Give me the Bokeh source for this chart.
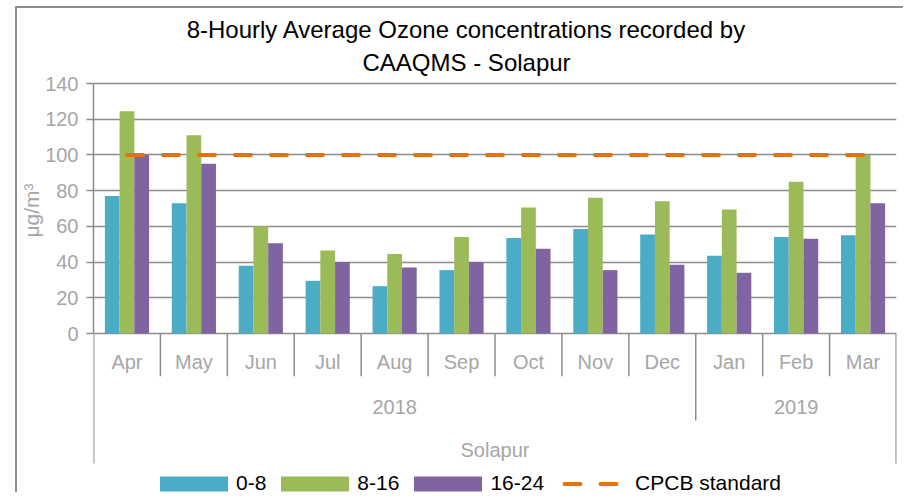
import math
from bokeh.plotting import figure
from bokeh.models import (ColumnDataSource, FactorRange, Range1d, FixedTicker, Title,
                          CDSView, IndexFilter, LegendItem, Legend)
from bokeh.transform import dodge
from bokeh.embed import file_html
from bokeh.resources import INLINE

# ---------------- data ----------------
months = ["Apr", "May", "Jun", "Jul", "Aug", "Sep", "Oct", "Nov", "Dec", "Jan", "Feb", "Mar"]
years = ["2018"] * 9 + ["2019"] * 3
station = "Solapur"
h0_8 = [77, 73, 38, 29.5, 26.5, 35.5, 53.5, 58.5, 55.5, 43.5, 54, 55]
h8_16 = [124.5, 111, 60, 46.5, 44.5, 54, 70.5, 76, 74, 69.5, 85, 100]
h16_24 = [100, 95, 50.5, 40, 37, 40, 47.5, 35.5, 38.5, 34, 53, 73]
cpcb_standard = 100
y_ticks = [0, 20, 40, 60, 80, 100, 120, 140]
series_names = ["0-8", "8-16", "16-24"]
line_name = "CPCB standard"
title_lines = ["8-Hourly Average Ozone concentrations recorded by", "CAAQMS - Solapur"]
y_label = "\u03bcg/m\u00b3"

# ---------------- style / layout ----------------
FONT = "Liberation Sans"
C_TEAL = "#4BACC6"
C_GREEN = "#9BBB59"
C_PURPLE = "#8064A2"
C_ORANGE = "#E8700A"
C_GRID = "#8C8C8C"
C_LABEL = "#A6A6A6"
Y_TOP = 182.0           # frame continues above the value axis: title lives there
Y_BOTTOM = -90.16       # frame continues below zero: category labels + legend live there
AXIS_BOTTOM = -72.8     # bottom of the category-axis box
TITLE_Y = [170.0, 151.5]
TITLE_CENTER = 5.575    # horizontal title centre, in category units from the left edge
MONTH_Y, YEAR_Y, GROUP_Y = -16.2, -41.4, -65.5
MONTH_SEP, YEAR_SEP = -24.0, -48.7
BAR_W = 0.22

src = ColumnDataSource(dict(month=months, a=h0_8, b=h8_16, c=h16_24,
                            std=[cpcb_standard] * len(months)))

p = figure(x_range=FactorRange(*months), y_range=Range1d(Y_BOTTOM, Y_TOP), title=None,
           width=888, height=486, output_backend="svg", toolbar_location=None,
           min_border_left=76, min_border_right=9, min_border_top=0, min_border_bottom=0)
p.styles = {"margin-left": "15px", "margin-top": "6px",
            "border-top": "2px solid #8C8C8C", "border-left": "2px solid #8C8C8C"}
p.outline_line_color = None
p.background_fill_color = "white"


def at(c):
    """position in category units from the left edge -> (factor, offset from its centre)"""
    i = min(int(math.floor(c)), len(months) - 1)
    return [months[i], c - i - 0.5]


# title (two centred lines)
tsrc = ColumnDataSource(dict(x=[at(TITLE_CENTER)] * 2, y=TITLE_Y, t=title_lines))
p.text(x="x", y="y", text="t", source=tsrc, text_align="center", text_baseline="middle",
       text_font={"value": FONT}, text_font_size="24px", text_color="black")

# bars
bar_renderers = []
for off, col, colr in [(-BAR_W, "a", C_TEAL), (0, "b", C_GREEN), (BAR_W, "c", C_PURPLE)]:
    bar_renderers.append(
        p.vbar(x=dodge("month", off, range=p.x_range), top=col, width=BAR_W, bottom=0,
               source=src, fill_color=colr, line_color=None))

# standard line (round-capped long dashes)
p.line(x="month", y="std", source=src, line_color=C_ORANGE, line_width=4,
       line_dash="16 20", line_cap="round")
# same line style used only for the legend sample (a one-point view draws nothing in the plot)
line_key = p.line(x="month", y="std", source=src, view=CDSView(filter=IndexFilter(indices=[0])),
                  line_color=C_ORANGE, line_width=4, line_dash="16 20", line_cap="round",
                  line_dash_offset=22)

# axes / grid
p.xaxis.visible = False
p.xgrid.visible = False
p.yaxis.ticker = FixedTicker(ticks=y_ticks)
p.yaxis.bounds = (y_ticks[0], y_ticks[-1])
p.ygrid.ticker = FixedTicker(ticks=y_ticks)
p.ygrid.grid_line_color = C_GRID
p.ygrid.grid_line_width = 1.5
p.yaxis.axis_line_color = C_GRID
p.yaxis.axis_line_width = 1.5
p.yaxis.major_tick_line_color = C_GRID
p.yaxis.major_tick_line_width = 1.5
p.yaxis.major_tick_out = 7
p.yaxis.major_tick_in = 0
p.yaxis.minor_tick_line_color = None
p.yaxis.major_label_standoff = 8
p.yaxis.major_label_text_font = FONT
p.yaxis.major_label_text_font_size = "20px"
p.yaxis.major_label_text_color = C_LABEL

# y-axis unit label, placed beside the 0-140 part of the axis
p.add_layout(Title(text=y_label, align="right", offset=175, standoff=0, text_font=FONT,
                   text_font_size="21px", text_font_style="normal", text_color=C_LABEL), "left")

# multi-level category labels
p.text(x="month", y=MONTH_Y, text="month", source=src, text_align="center",
       text_baseline="middle", text_font={"value": FONT}, text_font_size="20px",
       text_color=C_LABEL)

uniq_years = list(dict.fromkeys(years))
yr_x = []
for yy in uniq_years:
    idx = [i for i, y in enumerate(years) if y == yy]
    yr_x.append(at(sum(idx) / len(idx) + 0.5))
ysrc = ColumnDataSource(dict(x=yr_x, t=uniq_years))
p.text(x="x", y=YEAR_Y, text="t", source=ysrc, text_align="center", text_baseline="middle",
       text_font={"value": FONT}, text_font_size="20px", text_color=C_LABEL)

gsrc = ColumnDataSource(dict(x=[at(len(months) / 2)], t=[station]))
p.text(x="x", y=GROUP_Y, text="t", source=gsrc, text_align="center", text_baseline="middle",
       text_font={"value": FONT}, text_font_size="20px", text_color=C_LABEL)

# separators (outer left/right edges and between categories)
sx, sy1 = [[months[0], -0.497]], [AXIS_BOTTOM]
for i in range(len(months) - 1):
    sx.append([months[i], 0.5])
    sy1.append(YEAR_SEP if years[i] != years[i + 1] else MONTH_SEP)
sx.append([months[-1], 0.495])
sy1.append(AXIS_BOTTOM)
ssrc = ColumnDataSource(dict(x=sx, y0=[0] * len(sx), y1=sy1))
p.segment(x0="x", y0="y0", x1="x", y1="y1", source=ssrc, line_color=C_GRID, line_width=1.5)

# legend (inside the lower part of the frame)
items = [LegendItem(label=n, renderers=[r]) for n, r in zip(series_names, bar_renderers)]
items.append(LegendItem(label=line_name, renderers=[line_key]))
lg = Legend(items=items, orientation="horizontal", location=(58, -1),
            glyph_width=85, glyph_height=19, label_standoff=0, spacing=6,
            padding=0, margin=0, border_line_color=None, background_fill_alpha=0,
            label_text_font=FONT, label_text_font_size="21px", label_text_color="black")
p.add_layout(lg, "center")

open("out.html", "w").write(file_html(p, INLINE))
